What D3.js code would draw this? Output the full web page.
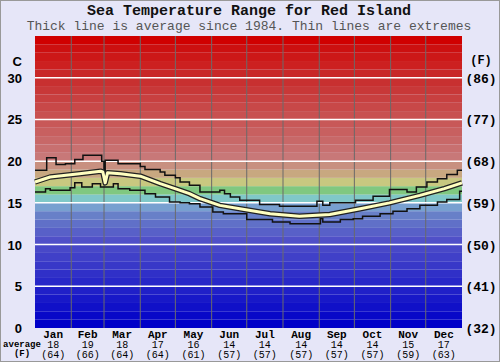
<!DOCTYPE html>
<html>
<head>
<meta charset="utf-8">
<script src="https://cdn.jsdelivr.net/npm/d3@7"></script>
<style>
  body { margin: 0; background: #e6e6f8; }
  svg { display: block; }
</style>
</head>
<body>
<svg id="chart" width="500" height="362"></svg>
<script>
// month names and day-of-year boundaries
var months = ["Jan","Feb","Mar","Apr","May","Jun","Jul","Aug","Sep","Oct","Nov","Dec"];
var monthStarts = [0,31,59,90,120,151,181,212,243,273,304,334,365];
var avgC = [18,19,18,17,16,14,14,14,14,14,15,17];
var avgF = [64,66,64,64,61,57,57,57,57,57,59,63];

var cTicks = [0,5,10,15,20,25,30];
var fTicks = [32,41,50,59,68,77,86];

// [day of year, deg C]
var maxTemps = [[0,18.9],[10,20.4],[18,19.6],[26,19.7],[34,20.2],[41,20.7],[57,20.0],[59,17.3],[60,20.1],
  [71,19.7],[90,19.35],[94,19.0],[107,18.7],[111,18.3],[120,18.0],[124,17.5],[132,17.1],[141,16.3],
  [158,16.5],[162,16.1],[167,15.7],[175,15.3],[192,14.8],[209,14.6],[241,15.2],[246,14.7],[252,15.0],
  [274,15.3],[289,15.8],[303,16.6],[318,16.3],[326,16.9],[335,17.5],[344,17.9],[352,18.4],[361,18.9],[365,18.9]];

var minTemps = [[0,16.3],[9,16.7],[13,16.5],[30,16.8],[34,17.4],[40,16.9],[49,17.3],[56,16.9],[67,17.3],
  [71,16.7],[81,16.5],[94,16.1],[103,15.7],[115,15.1],[124,15.0],[132,14.9],[141,14.5],[152,13.9],
  [161,13.7],[181,13.0],[203,12.7],[218,12.5],[244,13.1],[246,12.7],[261,13.0],[272,13.1],[280,13.4],
  [295,13.7],[306,14.0],[318,14.3],[329,14.7],[344,15.1],[352,15.4],[363,16.4],[365,16.4]];

var avgTemps = [[0,17.5],[13,18.1],[38,18.5],[56,18.8],[58,18.7],[60,17.4],[62,18.6],[73,18.5],[90,18.2],
  [107,17.3],[124,16.5],[132,16.1],[141,15.5],[158,14.7],[179,14.2],[201,13.7],[226,13.4],[252,13.6],
  [278,14.3],[303,15.0],[329,15.9],[350,16.7],[365,17.4]];

// one colour per 1 degree band, from 0 upward
var bandColors = ["#0000c8","#0808c8","#1010c8","#1818c8","#2020c8","#2828c8","#3030c8","#3838c8",
  "#4040c8","#4848c8","#5050c8","#5860c8","#6070c8","#6880c8","#78a0d0","#80c8c8","#80c880","#c8c880",
  "#c8a880","#c89080","#c87878","#c87070","#c86868","#c86060","#c85858","#c85050","#c84848","#c84040",
  "#c83838","#c83030","#c82828","#cc2020","#cc1818","#cc1010","#d00000"];

var svg = d3.select("#chart");
var plotL = 35, plotR = 462, plotT = 36, plotB = 328;
var mono = "'Liberation Mono', 'Courier New', monospace";

var x = d3.scaleLinear().domain([0, 365]).range([plotL, plotR]);
var y = d3.scaleLinear().domain([0, 35]).range([plotB, plotT]);

svg.append("rect").attr("x", 0.5).attr("y", 0.5).attr("width", 499).attr("height", 361)
  .attr("fill", "#e6e6f8").attr("stroke", "#999");

// colour bands
svg.selectAll("rect.band")
  .data(bandColors)
  .enter().append("rect")
    .attr("class", "band")
    .attr("x", plotL)
    .attr("width", plotR - plotL)
    .attr("y", (d, i) => y(i + 1))
    .attr("height", (d, i) => y(i) - y(i + 1))
    .attr("fill", d => d);

// month dividers
svg.selectAll("line.month")
  .data(monthStarts.slice(1, 12))
  .enter().append("line")
    .attr("x1", d => x(d)).attr("x2", d => x(d))
    .attr("y1", plotT).attr("y2", plotB)
    .attr("stroke", "#6a6a6a").attr("stroke-width", 1);

// white lines every 5 degrees
svg.selectAll("line.grid")
  .data(cTicks.slice(1))
  .enter().append("line")
    .attr("x1", plotL).attr("x2", plotR)
    .attr("y1", d => y(d)).attr("y2", d => y(d))
    .attr("stroke", "#fff").attr("stroke-width", 1.5);

var line = d3.line().x(d => x(d[0])).y(d => y(d[1]));
var stepLine = d3.line().x(d => x(d[0])).y(d => y(d[1])).curve(d3.curveStepAfter);

[maxTemps, minTemps].forEach(function(s) {
  svg.append("path").datum(s)
    .attr("fill", "none").attr("stroke", "#111").attr("stroke-width", 1.5)
    .attr("d", stepLine);
});

svg.append("path").datum(avgTemps)
  .attr("fill", "none").attr("stroke", "#222").attr("stroke-width", 5.5)
  .attr("stroke-linejoin", "round").attr("d", line);
svg.append("path").datum(avgTemps)
  .attr("fill", "none").attr("stroke", "#ffffc0").attr("stroke-width", 3)
  .attr("stroke-linejoin", "round").attr("d", line);

// title
svg.append("text").attr("x", 249).attr("y", 15).attr("text-anchor", "middle")
  .style("font", "bold 15px " + mono).attr("fill", "#111")
  .text("Sea Temperature Range for Red Island");
svg.append("text").attr("x", 249).attr("y", 30).attr("text-anchor", "middle")
  .style("font", "13px " + mono).attr("fill", "#555")
  .text("Thick line is average since 1984. Thin lines are extremes");

// left axis (C)
svg.append("text").attr("x", 22).attr("y", 66).attr("text-anchor", "end")
  .style("font", "bold 13px 'Liberation Sans', sans-serif").text("C");
svg.selectAll("text.c")
  .data(cTicks)
  .enter().append("text")
    .attr("x", 22).attr("y", d => y(d) + 5).attr("text-anchor", "end")
    .style("font", "bold 13px 'Liberation Sans', sans-serif")
    .text(d => d);

// right axis (F)
svg.append("text").attr("x", 481).attr("y", 64).attr("text-anchor", "middle")
  .style("font", "bold 12px " + mono).text("(F)");
svg.selectAll("text.f")
  .data(fTicks)
  .enter().append("text")
    .attr("x", 481).attr("y", (d, i) => y(cTicks[i]) + 5).attr("text-anchor", "middle")
    .style("font", "bold 13px " + mono)
    .text(d => "(" + d + ")");

// month labels with averages
var mid = months.map((m, i) => (monthStarts[i] + monthStarts[i + 1]) / 2);
svg.selectAll("text.mon")
  .data(months)
  .enter().append("text")
    .attr("x", (d, i) => x(mid[i])).attr("y", 338).attr("text-anchor", "middle")
    .style("font", "bold 11px " + mono).text(d => d);
svg.selectAll("text.avgc")
  .data(avgC)
  .enter().append("text")
    .attr("x", (d, i) => x(mid[i])).attr("y", 348).attr("text-anchor", "middle")
    .style("font", "10px " + mono).text(d => d);
svg.selectAll("text.avgf")
  .data(avgF)
  .enter().append("text")
    .attr("x", (d, i) => x(mid[i])).attr("y", 358).attr("text-anchor", "middle")
    .style("font", "10px " + mono).text(d => "(" + d + ")");

svg.append("text").attr("x", 22).attr("y", 347).attr("text-anchor", "middle")
  .style("font", "bold 9px " + mono).text("average");
svg.append("text").attr("x", 22).attr("y", 356).attr("text-anchor", "middle")
  .style("font", "bold 9px " + mono).text("(F)");
</script>
</body>
</html>
